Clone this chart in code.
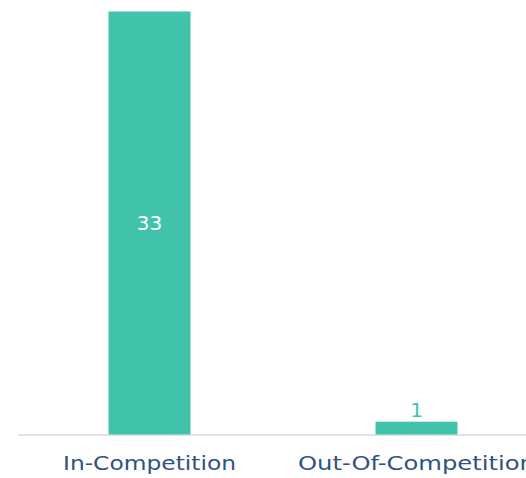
<!DOCTYPE html>
<html>
<head>
<meta charset="utf-8">
<script src="https://cdn.jsdelivr.net/npm/d3@7"></script>
<style>
  body { margin: 0; background: #fff; }
  svg { display: block; }
</style>
</head>
<body>
<div id="chart"></div>
<script>
const categories = ['In-Competition', 'Out-Of-Competition']
const values = [33, 1]

const width = 526
const height = 478
const barColor = '#41c3ab'

const svg = d3
  .select('#chart')
  .append('svg')
  .attr('width', width)
  .attr('height', height)

const xScale = d3
  .scaleBand()
  .domain(categories)
  .range([16, 550])
  .paddingInner(0.693)
  .paddingOuter(0.3465)

const yScale = d3
  .scaleLinear()
  .domain([0, 33])
  .range([434.5, 11.5])

// baseline
svg
  .append('line')
  .attr('x1', 18)
  .attr('x2', width)
  .attr('y1', 435)
  .attr('y2', 435)
  .attr('stroke', '#d9d9d9')
  .attr('stroke-width', 1.5)

svg
  .selectAll('.bar')
  .data(values)
  .enter()
  .append('rect')
  .attr('class', 'bar')
  .attr('x', (d, i) => xScale(categories[i]))
  .attr('width', xScale.bandwidth())
  .attr('y', d => yScale(d))
  .attr('height', d => yScale(0) - yScale(d))
  .attr('fill', barColor)

// value labels: inside big bar, above small bar
svg
  .selectAll('.value')
  .data(values)
  .enter()
  .append('text')
  .attr('class', 'value')
  .attr('x', (d, i) => xScale(categories[i]) + xScale.bandwidth() / 2)
  .attr('y', d => (d > 5 ? (yScale(d) + yScale(0)) / 2 + 7 : yScale(d) - 5))
  .attr('text-anchor', 'middle')
  .attr('font-family', '"DejaVu Sans", sans-serif')
  .attr('font-size', 20)
  .attr('fill', d => (d > 5 ? '#ffffff' : barColor))
  .text(d => d)

// category labels, stretched to the wide gothic face of the original
const labelWidths = [173, 237]
svg
  .selectAll('.cat')
  .data(categories)
  .enter()
  .append('text')
  .attr('class', 'cat')
  .attr('x', d => xScale(d) + xScale.bandwidth() / 2)
  .attr('y', 470)
  .attr('text-anchor', 'middle')
  .attr('font-family', '"DejaVu Sans", sans-serif')
  .attr('font-size', 19)
  .attr('textLength', (d, i) => labelWidths[i])
  .attr('lengthAdjust', 'spacingAndGlyphs')
  .attr('fill', '#2f5185')
  .text(d => d)
</script>
</body>
</html>
